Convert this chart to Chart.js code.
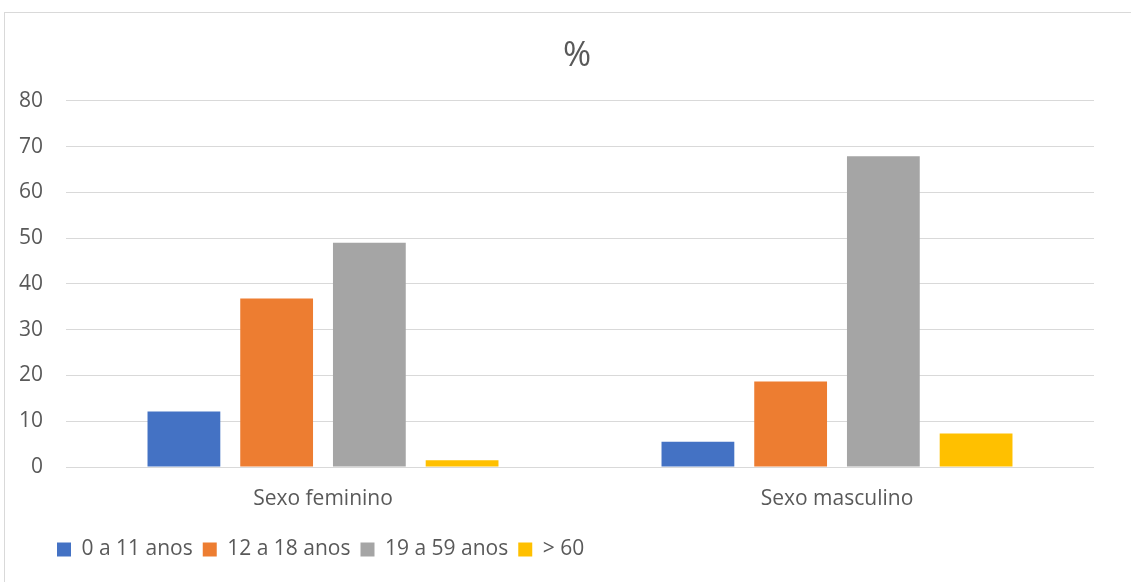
<!DOCTYPE html>
<html>
<head>
<meta charset="utf-8">
<script src="https://cdn.jsdelivr.net/npm/chart.js@4.4.0/dist/chart.umd.min.js"></script>
<style>
  html, body { margin: 0; padding: 0; background: #ffffff; overflow: hidden; width: 1131px; height: 582px; }
  #frame { position: absolute; left: 4px; top: 12px; width: 1140px; height: 590px; border: 1px solid #d9d9d9; }
  #frame canvas { display: block; }
</style>
</head>
<body>
<div id="frame"><canvas id="c" width="1127" height="569"></canvas></div>
<script>
const categories = ["Sexo feminino", "Sexo masculino"];
const seriesNames = ["0 a 11 anos", "12 a 18 anos", "19 a 59 anos", "> 60"];
const age0to11 = [12.1, 5.5];
const age12to18 = [36.8, 18.7];
const age19to59 = [49.0, 67.9];
const age60plus = [1.5, 7.3];
const yTicks = [0, 10, 20, 30, 40, 50, 60, 70, 80];
const colors = ["#4472c4", "#ed7d31", "#a5a5a5", "#ffc000"];

const seriesValues = [age0to11, age12to18, age19to59, age60plus];
const FONT = "'Open Sans', sans-serif";
const TXT = "#595959";

// shift legend and title horizontally to match the reference layout
const shiftPlugin = {
  id: "shiftBoxes",
  afterLayout(chart) {
    if (chart.legend) { chart.legend.left += 42; chart.legend.right += 42; }
    if (chart.titleBlock) { chart.titleBlock.left += 8.5; chart.titleBlock.right += 8.5; }
  }
};

new Chart(document.getElementById("c"), {
  type: "bar",
  data: {
    labels: categories,
    datasets: seriesNames.map((n, i) => ({
      label: n,
      data: seriesValues[i],
      backgroundColor: colors[i],
      borderWidth: 0,
      categoryPercentage: 0.7216,
      barPercentage: 0.785
    }))
  },
  plugins: [shiftPlugin],
  options: {
    responsive: false,
    animation: false,
    devicePixelRatio: 1,
    layout: { padding: { left: 0, right: 0, top: 0, bottom: 12 } },
    plugins: {
      title: {
        display: true,
        text: "%",
        color: TXT,
        font: { family: FONT, size: 34, weight: "normal", lineHeight: 1.2 },
        padding: { top: 23, bottom: 24 }
      },
      legend: {
        position: "bottom",
        align: "start",
        labels: {
          color: TXT,
          font: { family: FONT, size: 21 },
          boxWidth: 14,
          boxHeight: 14,
          padding: 10
        }
      },
      tooltip: { enabled: false }
    },
    scales: {
      x: {
        grid: { display: false },
        border: { display: false },
        ticks: { color: TXT, font: { family: FONT, size: 21 }, padding: 11 },
        afterFit: s => { s.height = 62; }
      },
      y: {
        min: 0, max: 80,
        afterBuildTicks: s => { s.ticks = yTicks.map(v => ({ value: v })); },
        grid: { color: "#d9d9d9", lineWidth: 1, drawTicks: false },
        border: { display: false },
        ticks: { color: TXT, font: { family: FONT, size: 21 }, padding: 23 },
        afterFit: s => { s.width = 61; }
      },
      spacer: {
        type: "linear",
        position: "right",
        display: true,
        grid: { display: false },
        border: { display: false },
        ticks: { display: false },
        afterFit: s => { s.width = 38; }
      }
    }
  }
});
</script>
</body>
</html>
